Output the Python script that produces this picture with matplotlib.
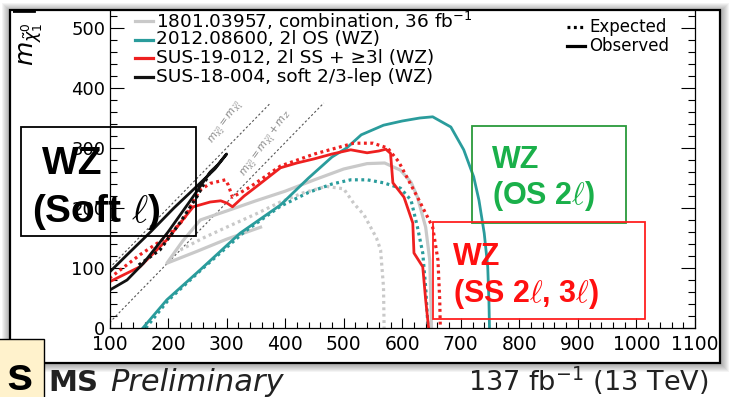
import matplotlib.pyplot as plt
from matplotlib.patches import Rectangle
from matplotlib.lines import Line2D
from matplotlib.ticker import MultipleLocator
from matplotlib.transforms import Bbox, TransformedBbox

# contours: (chargino mass, neutralino mass) in GeV
comb_obs_x = [358, 300, 250, 198, 225, 255, 300, 350, 400, 450, 500, 540, 570, 597, 615, 626, 640, 647, 650]
comb_obs_y = [168, 148, 128, 108, 145, 180, 195, 212, 228, 247, 265, 274, 275, 263, 243, 218, 168, 113, 0]
comb_exp_x = [221, 260, 300, 350, 392, 430, 470, 500, 517, 535, 546, 556, 563, 568, 569]
comb_exp_y = [130, 150, 168, 190, 210, 225, 236, 232, 208, 188, 168, 150, 130, 68, 0]

os_obs_x = [157, 198, 255, 323, 392, 440, 480, 505, 530, 568, 600, 630, 652, 683, 705, 722, 731, 740, 746, 748, 749]
os_obs_y = [0, 47, 97, 158, 205, 250, 285, 300, 322, 338, 345, 350, 352, 335, 297, 252, 213, 158, 102, 47, 0]
os_exp_x = [162, 200, 260, 330, 392, 440, 480, 512, 540, 568, 597, 615, 626, 635, 640, 644]
os_exp_y = [0, 46, 100, 160, 203, 226, 240, 247, 247, 242, 233, 213, 168, 125, 68, 0]

ss_obs_x = [100, 152, 198, 243, 272, 290, 301, 310, 330, 350, 392, 420, 450, 480, 512, 540, 560, 572, 580,
            584, 603, 618, 620, 635, 640, 645]
ss_obs_y = [77, 102, 147, 202, 210, 212, 208, 202, 220, 235, 267, 275, 282, 290, 297, 292, 295, 298, 291,
            242, 218, 175, 125, 102, 47, 0]
ss_exp_x = [100, 152, 198, 226, 245, 255, 272, 298, 303, 310, 340, 392, 450, 517, 550, 575, 594, 626, 652,
            661, 664, 665]
ss_exp_y = [83, 122, 152, 180, 215, 230, 241, 247, 238, 218, 235, 270, 290, 308, 308, 300, 277, 218, 168,
            113, 47, 0]

soft_obs_x = [100, 130, 158, 200, 240, 272, 285, 300, 280, 250, 210, 170, 130, 100]
soft_obs_y = [63, 80, 108, 160, 215, 260, 272, 290, 265, 237, 200, 160, 122, 93]
soft_exp_x = [150, 186, 220, 250, 272]
soft_exp_y = [105, 130, 175, 220, 260]

diag_x = [100, 375]
diag_y = [100, 375]
mz_x = [100, 466]
mz_y = [9, 375]

labels = ["1801.03957, combination, 36 fb$^{-1}$",
          "2012.08600, 2l OS (WZ)",
          "SUS-19-012, 2l SS + \u22653l (WZ)",
          "SUS-18-004, soft 2/3-lep (WZ)"]
colors = ["#c9c9c9", "#2a9c9c", "#ee2020", "#111111"]

W, H = 731, 397


def fx(px):
    return px / W


def fy(py):
    return 1 - py / H


plt.rcParams["font.family"] = "DejaVu Sans"
plt.rcParams["mathtext.fontset"] = "dejavusans"

fig = plt.figure(figsize=(W / 100, H / 100), dpi=100)
fig.patch.set_facecolor("white")

# slide frame with soft shadow
for k in range(1, 9):
    fig.patches.append(Rectangle((fx(10 - k), fy(363 + k + 1)), (710 + 2 * k + 1) / W, (353 + 2 * k) / H,
                                 transform=fig.transFigure, facecolor="#000000", alpha=0.045,
                                 edgecolor="none", zorder=-3))
fig.patches.append(Rectangle((fx(10), fy(363)), 710 / W, 353 / H, transform=fig.transFigure,
                             facecolor="white", edgecolor="none", zorder=-2))

ax = fig.add_axes([fx(109.5), fy(328), (695 - 109.5) / W, 318 / H])
ax.patch.set_alpha(0)
ax.set_xlim(100, 1100)
ax.set_ylim(0, 530)

dot = (0, (0.9, 1.1))
ax.plot(diag_x, diag_y, color="#555555", lw=0.8, ls=(0, (2, 2)))
ax.plot(mz_x, mz_y, color="#555555", lw=0.8, ls=(0, (2, 2)))
ax.text(300, 343, r"$m_{\tilde{\chi}^0_2}=m_{\tilde{\chi}^0_1}$", color="#888888", fontsize=7.5,
        rotation=54, ha="center", va="center")
ax.text(368, 307, r"$m_{\tilde{\chi}^0_2}=m_{\tilde{\chi}^0_1}+m_Z$", color="#888888", fontsize=7.5,
        rotation=54, ha="center", va="center")

ax.plot(comb_exp_x, comb_exp_y, color=colors[0], lw=2.3, ls=dot)
ax.plot(comb_obs_x, comb_obs_y, color=colors[0], lw=2.3)
ax.plot(os_exp_x, os_exp_y, color=colors[1], lw=2.3, ls=dot)
ax.plot(os_obs_x, os_obs_y, color=colors[1], lw=2.0)
ax.plot(ss_exp_x, ss_exp_y, color=colors[2], lw=2.3, ls=dot)
ax.plot(ss_obs_x, ss_obs_y, color=colors[2], lw=2.0)
ax.plot(soft_exp_x, soft_exp_y, color=colors[3], lw=2.3, ls=dot)
ax.plot(soft_obs_x, soft_obs_y, color=colors[3], lw=2.0)

ax.xaxis.set_major_locator(MultipleLocator(100))
ax.xaxis.set_minor_locator(MultipleLocator(20))
ax.yaxis.set_major_locator(MultipleLocator(100))
ax.yaxis.set_minor_locator(MultipleLocator(20))
ax.tick_params(axis="y", which="both", direction="in", left=True, right=True, labelsize=13, pad=3)
ax.tick_params(axis="y", which="major", length=10, width=0.8)
ax.tick_params(axis="y", which="minor", length=5, width=0.8)
ax.tick_params(axis="x", which="both", direction="in", bottom=True, top=False, labelsize=13.5, pad=5)
ax.tick_params(axis="x", which="major", length=7, width=0.8)
ax.tick_params(axis="x", which="minor", length=4, width=0.8)
ax.spines["top"].set_visible(False)
for s in ["left", "bottom", "right"]:
    ax.spines[s].set_linewidth(0.9)

# legends drawn by hand, as in the picture
for i, (lab, c) in enumerate(zip(labels, colors)):
    py = 21 + i * 18.5
    fig.lines.append(Line2D([fx(135), fx(153)], [fy(py), fy(py)], transform=fig.transFigure,
                            color=c, lw=2.3))
    fig.text(fx(156), fy(py), lab, fontsize=13.3, va="center", ha="left")
fig.lines.append(Line2D([fx(567), fx(585)], [fy(27), fy(27)], transform=fig.transFigure,
                        color="black", lw=2.3, ls=dot))
fig.lines.append(Line2D([fx(567), fx(585)], [fy(46), fy(46)], transform=fig.transFigure,
                        color="black", lw=2.3))
fig.text(fx(589), fy(27), "Expected", fontsize=12, va="center")
fig.text(fx(589), fy(46), "Observed", fontsize=12, va="center")

clip = TransformedBbox(Bbox([[fx(10), fy(363)], [fx(720), fy(10)]]), fig.transFigure)
yl = fig.text(fx(29), fy(66), r"$m_{\tilde{\chi}^{0}_{1}}$ [GeV]", fontsize=18, rotation=90,
              rotation_mode="anchor", ha="left", va="center")
yl.set_clip_box(clip)
yl.set_clip_on(True)

fig.patches.append(Rectangle((fx(10), fy(363)), 710 / W, 353 / H, transform=fig.transFigure,
                             fill=False, edgecolor="black", lw=1.6, zorder=5))

# overlaid slide boxes
fig.patches.append(Rectangle((fx(21), fy(236)), 175 / W, 109 / H, transform=fig.transFigure,
                             fill=False, edgecolor="black", lw=1.3, zorder=6))
fig.text(fx(42), fy(174), "WZ", fontsize=28, fontweight="bold", family="Liberation Sans",
         color="black", zorder=7)
fig.text(fx(32), fy(222), r"(Soft $\ell$)", fontsize=28, fontweight="bold", family="Liberation Sans",
         math_fontfamily="cm", color="black", zorder=7)

fig.patches.append(Rectangle((fx(472), fy(223)), 154 / W, 97 / H, transform=fig.transFigure,
                             fill=False, edgecolor="#2a9a3a", lw=1.3, zorder=6))
fig.text(fx(492), fy(168), "WZ", fontsize=22, fontweight="bold", family="Liberation Sans",
         color="#1ab04a", zorder=7)
fig.text(fx(492), fy(204), r"(OS 2$\ell$)", fontsize=22, fontweight="bold", family="Liberation Sans",
         math_fontfamily="cm", color="#1ab04a", zorder=7)

fig.patches.append(Rectangle((fx(433), fy(319)), 212 / W, 97 / H, transform=fig.transFigure,
                             fill=False, edgecolor="#ff2020", lw=1.3, zorder=6))
fig.text(fx(453), fy(265), "WZ", fontsize=22, fontweight="bold", family="Liberation Sans",
         color="#ff1010", zorder=7)
fig.text(fx(453), fy(302), r"(SS 2$\ell$, 3$\ell$)", fontsize=22, fontweight="bold",
         family="Liberation Sans", math_fontfamily="cm", color="#ff1010", zorder=7)

# text under the frame
fig.text(fx(48), fy(391), "MS", fontsize=21, fontweight="bold", color="#222222")
fig.text(fx(110), fy(391), "Preliminary", fontsize=22, style="italic", color="#222222")
fig.text(fx(468), fy(391), "137 fb$^{-1}$ (13 TeV)", fontsize=19.5, color="#222222")

fig.patches.append(Rectangle((fx(-2), fy(400)), 46 / W, 61 / H, transform=fig.transFigure,
                             facecolor="#fff2cc", edgecolor="black", lw=1.0, zorder=8))
fig.text(fx(6), fy(390), "s", fontsize=34, fontweight="bold", family="Liberation Sans",
         color="black", zorder=9)

fig.savefig("out.png", dpi=100)
